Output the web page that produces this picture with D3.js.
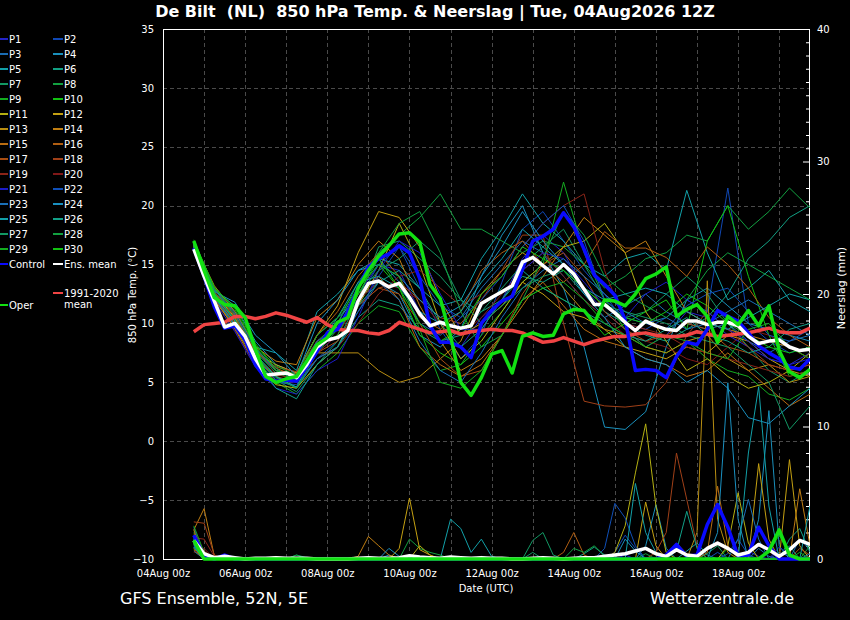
<!DOCTYPE html>
<html>
<head>
<meta charset="utf-8">
<script src="https://cdn.jsdelivr.net/npm/d3@7"></script>
<style>
  html, body { margin: 0; background: #000; }
  svg { display: block; font-family: "DejaVu Sans", sans-serif; }
</style>
</head>
<body>
<svg id="chart" width="850" height="620"></svg>
<script>
// ticks
const tempTicks = [-10, -5, 0, 5, 10, 15, 20, 25, 30, 35];
const rainTicks = [0, 10, 20, 30, 40];
const xTickDays = ['2026-08-04', '2026-08-06', '2026-08-08', '2026-08-10', '2026-08-12', '2026-08-14', '2026-08-16', '2026-08-18'];

const memberNames = ['P1','P2','P3','P4','P5','P6','P7','P8','P9','P10','P11','P12','P13','P14','P15',
  'P16','P17','P18','P19','P20','P21','P22','P23','P24','P25','P26','P27','P28','P29','P30'];
const memberColors = ['#2424c8','#1048b4','#1a6cb4','#1a90bc','#12a0a8','#12a084','#129864','#12a040','#14ac20','#12c012',
  '#b4b012','#c4a012','#b88e12','#c07e12','#b86c12','#b05e12','#a84e12','#a04018','#8a2418','#801818',
  '#1c1cc8','#1050b8','#1a70b8','#1a90c0','#12a0a8','#12a088','#129864','#12a040','#14ac20','#12c012'];

// 850 hPa temperature of the members, 12-hourly from 04Aug 18z
const membersTemp = [
  [16.5,12.2,10.1,7.2,5.4,5.0,7.5,9.0,12.5,15.0, 14.5,11.0,8.5,8.0,10.5,12.0,15.5,17.5,16.0,13.0, 11.0,9.5,8.0,9.0,11.0,10.5,9.0,8.0,7.0,6.5, 7.5],
  [16.4,12.0,9.8,6.8,5.0,4.8,7.0,8.5,11.0,14.0, 16.5,13.0,9.5,7.0,9.0,13.5,18.0,19.5,17.0,14.5, 12.5,10.0,9.5,10.5,12.0,11.0,21.5,10.0,8.5,7.5, 8.0],
  [16.6,12.4,10.3,7.5,6.0,5.5,8.0,10.0,13.0,15.5, 13.5,10.0,9.0,10.5,13.0,15.0,17.0,16.0,14.0,12.0, 10.5,11.5,12.5,11.0,10.0,9.5,10.0,8.5,7.5,8.5, 9.0],
  [16.8,12.8,11.5,8.5,6.5,5.8,9.0,10.5,12.0,13.5, 12.5,9.0,8.0,9.5,14.0,17.5,20.0,16.0,13.0,8.0, 1.2,1.0,2.5,8.0,12.0,13.0,11.5,10.0,9.5,9.0, 8.5],
  [16.7,12.6,11.0,8.0,7.5,6.0,11.0,12.5,14.5,15.5, 15.0,13.0,11.5,12.0,15.5,18.0,21.0,18.5,17.0,15.0, 14.0,15.5,16.0,14.5,21.3,16.0,12.0,13.0,14.5,12.0, 11.0],
  [16.5,12.3,10.0,7.0,5.5,4.5,7.0,8.0,10.5,12.0, 11.5,9.5,8.5,9.0,11.0,12.0,14.0,13.5,14.5,12.5, 11.0,10.0,9.0,8.5,9.5,10.5,12.5,15.5,17.0,19.0, 20.0],
  [16.6,12.5,10.4,7.3,5.2,4.2,6.5,8.5,12.0,16.5, 17.0,15.5,14.0,12.0,11.0,13.0,15.0,16.5,18.0,15.0, 12.0,10.5,11.0,12.5,14.0,12.5,10.0,8.0,6.0,5.0, 6.0],
  [16.9,12.9,10.6,7.6,5.8,5.2,8.5,10.0,13.5,16.0, 17.5,19.0,21.0,18.0,18.0,17.0,16.0,17.0,16.5,15.0, 13.0,14.0,15.5,16.0,17.5,17.0,20.0,18.0,19.5,21.5, 19.8],
  [16.7,12.4,10.2,7.0,5.0,4.0,6.0,7.5,10.0,11.5, 11.0,8.0,6.0,6.5,9.0,11.0,13.5,15.0,22.0,16.0, 12.0,9.5,8.0,7.5,8.5,7.0,6.0,5.5,4.0,3.5, 4.5],
  [17.0,13.0,11.0,8.0,6.0,5.5,8.0,9.5,13.0,15.0, 13.0,9.0,7.5,6.5,8.0,10.0,12.0,13.0,12.0,11.0, 9.0,10.0,11.0,12.0,9.5,17.0,20.0,14.0,9.0,5.5, 6.0],
  [16.4,12.2,9.5,6.5,4.8,4.5,6.5,8.0,11.5,14.5, 18.5,15.0,10.0,7.0,8.5,11.0,13.5,15.0,16.5,17.0, 18.5,16.0,11.0,8.5,6.0,7.0,5.5,4.5,5.0,6.0, 7.5],
  [16.6,12.6,10.5,7.5,6.5,5.8,9.0,11.5,16.0,19.5, 19.0,16.5,12.0,9.0,10.0,11.5,13.5,12.5,11.0,10.5, 9.5,8.0,7.5,7.0,8.0,7.5,9.0,8.5,7.0,6.0, 5.5],
  [16.3,12.0,9.6,6.8,5.6,5.8,7.5,7.5,7.5,6.0, 5.0,5.5,7.0,8.5,12.5,14.5,16.0,15.0,13.0,11.0, 9.5,9.0,8.0,7.5,8.5,9.0,7.0,6.0,6.5,5.0, 5.5],
  [16.8,13.2,11.0,8.0,6.8,6.5,10.5,12.0,15.0,17.0, 15.5,11.5,8.5,6.0,7.0,9.0,11.5,14.0,16.5,19.0, 17.5,16.0,17.0,14.0,11.0,10.0,9.5,9.0,8.5,8.0, 7.0],
  [16.5,12.5,10.0,7.8,6.2,5.5,8.5,9.5,12.5,14.0, 12.0,8.0,6.5,5.5,6.5,9.0,12.0,13.5,11.5,9.5, 8.5,8.0,7.0,6.5,5.5,6.0,7.5,6.0,4.5,3.0, 4.0],
  [16.9,13.0,10.8,7.7,6.0,5.7,9.0,11.0,14.0,16.0, 14.0,10.5,9.5,11.0,14.5,16.0,17.0,15.0,13.5,15.0, 17.8,16.4,16.4,15.6,14.0,16.5,15.0,13.0,10.5,9.0, 8.0],
  [16.4,12.1,9.8,7.0,5.5,5.0,7.5,8.5,11.5,13.0, 12.5,10.0,7.0,5.5,6.0,9.0,12.5,15.0,16.0,14.0, 11.0,9.5,8.5,9.0,10.0,9.5,8.0,7.5,6.5,6.0, 6.5],
  [16.6,12.7,10.6,7.6,6.3,5.9,8.5,9.5,11.5,13.0, 13.5,12.0,10.5,10.0,12.0,14.5,17.5,17.5,10.0,3.4, 3.0,2.9,3.1,5.0,9.0,11.0,9.5,8.0,6.5,6.0, 6.5],
  [16.5,12.4,10.1,7.2,5.7,5.2,7.0,8.0,10.0,12.5, 14.0,14.5,13.0,11.5,12.5,14.0,16.5,18.5,20.0,21.0, 14.5,10.0,9.5,9.0,8.0,7.5,7.0,6.5,6.0,5.5, 6.0],
  [16.3,11.8,9.4,6.4,5.2,5.0,7.5,9.0,12.0,13.5, 13.0,12.0,10.0,9.0,10.5,12.5,14.5,16.0,14.0,12.0, 10.5,9.0,8.5,8.0,7.0,6.5,8.0,9.5,9.0,8.0, 7.0],
  [16.2,11.9,9.3,6.3,4.5,4.0,6.0,7.0,10.5,14.5, 17.0,16.0,12.5,9.5,9.5,12.0,14.5,16.0,15.5,13.5, 11.5,10.5,12.5,13.5,12.0,11.0,9.5,8.5,7.0,6.5, 7.0],
  [16.8,12.9,10.9,7.9,6.0,5.5,8.5,9.5,12.0,15.0, 16.5,14.0,11.5,10.5,12.0,14.0,16.5,18.5,20.0,17.0, 12.0,10.5,10.0,9.5,11.5,12.5,13.0,11.0,9.0,8.5, 9.5],
  [16.4,12.2,9.8,7.1,5.2,4.6,7.0,8.0,11.0,13.5, 12.0,8.5,6.0,5.0,7.5,10.5,13.0,14.5,15.5,14.0, 12.5,11.0,10.0,10.5,9.5,10.0,11.0,12.0,11.0,10.0, 9.0],
  [16.7,12.7,11.8,9.0,7.5,5.5,10.0,12.0,14.5,15.0, 14.0,12.0,10.5,11.5,14.0,16.5,19.5,17.0,15.0,12.5, 10.5,8.0,7.0,6.5,5.0,6.0,4.5,2.0,1.5,3.0, 4.5],
  [16.6,12.5,10.2,7.4,5.5,4.6,8.0,10.5,13.5,14.0, 13.0,11.0,10.0,11.0,13.5,15.5,18.0,16.5,15.0,13.0, 12.0,12.5,13.0,12.5,11.0,10.0,9.5,10.5,11.5,12.5, 12.0],
  [16.5,12.3,9.9,7.0,4.5,3.6,6.5,8.0,11.5,13.5, 14.5,13.0,10.0,8.0,9.5,12.0,14.5,13.0,12.0,11.0, 10.0,9.0,8.5,9.5,10.5,9.0,8.5,7.5,8.0,9.5, 10.0],
  [16.8,12.9,10.7,7.8,6.2,5.0,8.0,9.5,12.5,14.5, 15.5,17.0,15.5,12.0,10.0,11.5,13.0,14.0,14.5,13.0, 11.5,11.0,10.5,10.0,9.0,8.5,8.0,6.5,5.0,1.0, 3.0],
  [16.6,12.6,10.3,7.3,5.4,4.5,7.5,9.5,13.0,16.0, 18.5,19.5,16.0,11.0,8.0,9.0,12.0,15.5,19.5,17.5, 14.0,12.5,11.5,10.5,12.0,14.5,16.0,15.0,14.0,13.0, 12.0],
  [16.9,13.1,11.2,8.1,6.4,5.6,9.0,10.5,13.0,15.0, 14.0,9.5,5.0,4.5,6.0,9.0,12.0,13.0,13.5,12.0, 10.0,9.0,8.0,9.0,8.5,7.5,7.0,9.5,10.0,8.0, 7.0],
  [17.1,13.0,11.4,8.3,6.0,5.4,8.0,9.0,12.5,15.5, 13.0,10.0,8.5,9.5,12.5,14.0,16.5,15.5,14.5,13.0, 11.5,10.5,10.0,11.0,12.5,11.5,10.0,9.0,8.0,7.5, 8.0]
];

// 6-hourly precipitation (mm) of the members, from 04Aug 18z
const membersRain = [
  [1.8,0.1,0,0.2,0,0,0,0,0,0, 0,0,0,0,0,0,0,0,0,0, 0,0,0,0,0,0,0,0,0,0, 0,0,0,0,0,0,0,0,0,0, 0,0,0,0,0,0,0.3,0.8,0.2,0, 0,0,0,0,0.6,0.2,0,0,0,0,0],
  [2.4,0.2,0,0,0,0,0,0,0,0, 0,0,0,0,0,0,0,0,0,0, 0,0,0,0,0,0,0,0,0,0, 0,0,0,0,0,0,0,0,0,0, 0,0.5,1.8,0.8,0,0,0,0,0,0, 0,0,0.4,1.5,0.3,0,0,0.5,0.2,0,0],
  [1.2,0,0,0,0,0,0,0,0,0, 0,0,0,0,0,0,0,0,0,0, 0,0,0,0,0,0,0,0,0,0, 0,0.1,0,0,0,0,0,0,0,0, 0,0,0,0,0,0,0,0,0,0, 0,0,0,0,0,0.8,0.2,0,0,1.5,0.7],
  [0.6,0,0,0,0,0,0,0,0,0, 0,0,0,0,0,0,0,0,0,0.3, 0,0,0,0,0,0,0,0,0,0, 0,0,0,0,0,0,0,0,0,0, 0,0,0,0,1.0,4.1,0.8,0,0,0, 0,0,0,0,0,3.0,11.2,1.0,0,0,0],
  [0.9,0,0,0,0,0,0,0,0,0, 0,0,0,0,0,0,0,0,0,0, 0,0,0,0,0,3.0,2.3,0.5,1.5,0.2, 0,0,0,0,0,0,0,0,0,0, 0,0,0,0,0,0,0,0,0.6,1.2, 0.3,0,0,0,0,0,0,0,0,0,0],
  [1.5,0,0,0,0,0,0,0,0,0, 0,0,0,0,0,0,0,0,0,0, 0,0,0,0,0,0,0,0,0,0, 0,0,0,0,0,0,0,0,0.4,0.9, 0.3,0,0,0,0,0,0,0,0,0, 0,0,0,0,0,0,0,0,1.5,2.3,0.5],
  [1.0,0,0,0,0,0,0,0,0,0, 0.3,0.1,0,0,0,0,0,0,0,0, 0,0,0,0,0,0,0,0,0,0, 0,0,0,0.5,0,0,0,0,0,0, 0,0,0,0,0,0,0,0,0,0, 0.4,1.0,0,0,0,0,0,0,0,0,0],
  [1.3,0,0,0,0,0,0,0,0,0, 0.3,0,0,0,0,0,0,0,0,0, 0,1.5,0.8,0.5,0.3,0,0,0,0,0, 0,0,0,0,0,0,0,0,0,0, 0,0,0,0,0.4,0,0,0,0,0, 0,0,0,0,0,0,0,0,0,0,1.0],
  [2.0,0.4,0,0,0,0,0,0,0,0, 0,0,0,0,0,0,0,0,0,0, 0,0,0,0,0,0,0,0,0,0, 0,0,0,0,0,0,0,0,0,0, 0,0,0,0,0,0,0,0,0,0, 0,0,0,0,0,0,0.5,1.8,0.4,0,0],
  [1.7,0.3,0,0,0,0,0,0,0,0, 0,0,0,0,0,0,0,0,0,0, 0,0,0,0,0,0,0,0,0,0, 0,0,0,0,0,0,0,0,0,0, 0,0,0,0,0,0,0,0,0,0, 0,0,0.8,0.4,0,0,0,0,0,0,0],
  [0.8,0,0,0,0,0,0,0,0,0, 0,0,0,0,0,0,0,0,0,0, 0,0,1.0,0.3,0,0,0,0,0,0, 0,0,0,0,0,0,0,0,0,0, 0,0.5,2.5,6.5,10.2,4.0,0.5,0,0,0, 0,0,1.0,5.0,1.2,0,0,0,0,0,0],
  [1.1,0,0,0,0,0,0,0,0,0, 0,0,0,0,0,0,0,0,0,0, 0.8,4.6,0.7,0.3,0,0,0,0,0,0, 0,0,0,0,0,0,0,0,0,0, 0,0,0,0,4.3,1.0,0,0,0,0, 0,0,0,0,0,7.2,1.5,0,7.5,1.0,0],
  [2.2,0,0,0,0,0,0,0,0.2,0, 0,0,0,0,0,0,0,0,0,0, 0,0,0,0,0,0,0,0,0,0, 0,0,0,0,0,0,0,0,0,0, 0,0,0,0,0,0,0,0,0,2.0, 21.0,3.0,0.5,0,0,0,0,0,0,0,0],
  [2.2,3.8,0.2,0,0,0,0,0,0,0, 0,0,0,0,0,0,0.2,1.7,1.0,0.3, 0,0,0,0,0,0,0,0,0,0, 0,0,0,0,0,0,0,0,0,0, 0,0,0,0,0,0,0,0,0,0, 0,0,0,0,0,0,0,0,0,5.3,1.0],
  [1.4,0,0,0,0,0,0,0,0,0.1, 0,0,0,0,0,0,0,0,0,0, 0,0,0,0,0,0,0,0,0,0, 0,0,0,0,0,0,0,0,0,0, 0,0,0,0,0,0,0,0,0,0, 0.5,5.5,1.0,0,0,0,0,0,0,0,0],
  [0.7,0,0,0,0,0,0,0,0,0, 0,0,0,0,0,0,0,0,0,0, 0,0,0,0,0,0,0,0,0,0, 0,0,0,0,0,0,0.5,2.0,0.3,0, 0,0,0,0,0,0,0,1.2,0.4,0, 0,0,0,0,0,0,0,0,0,0,0],
  [1.9,0.6,0,0,0,0,0,0,0,0, 0,0,0.1,0,0,0,0,0,0,0, 0,0,0,0,0,0,0,0,0,0, 0,0,0,0,0,0,0,0,0,0, 0,0,0,0,0,0,0,0,0,0, 0,0,0,0,0,0,0,0,0,0.8,0.3],
  [2.8,2.7,0.3,0,0,0,0,0,0,0, 0,0,0,0,0,0,0,0,0,0, 0,0,0,0,0,0,0,0,0,0, 0,0,0,0,0,0,0,0,0,0, 0,0,0,0,0,0.5,2.0,8.0,4.5,1.0, 0,0,0,0,0,0,0,0,0,0,0],
  [1.6,1.5,0.2,0,0,0,0,0,0,0, 0,0,0,0,0,0,0,0,0,0, 0,0,0,0,0,0,0,0,0,0, 0,0,0,0,0,0,0,0,0,0, 0,0,0,0,0,0,0,0,0,0, 0,0,0,0,0,0,0.6,0,0,0,0],
  [0.5,0.8,0,0,0,0,0,0,0,0, 0,0,0,0,0,0,0,0,0,0, 0,0,0,0,0,0,0,0,0,0, 0,0,0,0,0,0,0,0,0,0, 0.2,0,0,0,0,0,0,0,0,0, 0,0,0,0,0,0,0,0,0,0,0],
  [1.4,0,0,0.2,0,0,0,0,0,0, 0,0,0,0,0,0,0,0,0,0, 0,0,0,0,0,0,0,0,0,0, 0,0,0,0,0,0,0,0,0,0, 0,0,0.3,0,0,0,0,0,0,0, 0,0,0,0,0,0,0,0.9,0.3,0,0],
  [1.0,0,0,0,0,0,0,0,0,0, 0,0,0,0,0,0,0,0,0,0, 0,0,0,0,0,0,0,0,0,0, 0,0,0,0,0,0,0,0,0,0, 0.8,4.2,3.1,1.0,0,0,0,0,0,0, 0,0.5,0,0,0,0,0,0,0,0,0],
  [1.2,0,0,0,0,0,0,0,0,0, 0,0,0,0,0,0,0,0,0,0, 0,0,0,0,0,0,0,0,0,0, 0,0,0,0,0,0,0,0,0,0, 0,0,0,0,0,0,0,0,0,0, 0,0,0,1.5,4.5,1.5,0,0,0,0,0.4],
  [1.3,0,0,0,0,0,0,0,0,0, 0,0,0,0,0,0,0,0,0,0.8, 0.2,0,0,0,0,0,0,0,0,0, 0,0,0,0,0,0,0,0,0,0, 0,0,1.5,0.6,0,0,0,0,0,0, 0,2.0,13.3,3.0,0,0,0,0,0,0,0],
  [0.9,0,0,0,0,0,0,0,0,0, 0,0,0,0,0,0,0,0,0,0, 0,0,0,0,0,0,0,0,0,0, 0,0,0,0,0,0,0,0,0,0, 0,0,0,5.7,2.0,0.5,0,0,0,0, 0,0,0,0,8.0,13.0,4.0,0,0,0,4.0],
  [1.1,0,0,0,0,0,0,0,0,0, 0,0,0,0,0,0,0,0,0,0, 0,0,0,0,0,0,0,0,0,0, 0,0,0,0,0,0,0,0,0,0, 0,0,0,0,0,0,0,0.6,3.6,0.8, 0,0,0,0,0,0,0,0,1.0,0,0],
  [1.6,0,0,0,0,0,0,0,0,0, 0,0,0,0,0,0,0,0,0,0, 0,0,0,0,0,0,0,0,0,0, 0,0,0,1.4,2.0,0.3,0,0,0,0, 0,0,0,0,0,0,0,0,0,0, 0,0,0,0,0,0,0,0,0,0,0],
  [1.5,0,0,0,0,0,0,0,0,0, 0,0,0,0,0,0,0,0,0,0, 0,0,0,0,0,0,0,0,0,0, 0,0,0,0,0,0,0,0.8,0.5,1.0, 0.2,0,0,0,0,0,0,0,0,0, 0,0,0,0,0,0,0,0,0,0,0],
  [2.5,0.5,0,0,0,0,0,0,0,0, 0,0,0,0,0,0,0,0,0,0, 0,0,0,0,0,0,0,0,0.2,0, 0,0,0,0,0,0,0,0,0,0, 0,0,0,0,0,0,0,0,0,0, 0,0,0,0,0,0,0,0,0,0.5,0],
  [1.3,0.2,0,0,0,0,0,0,0,0, 0,0,0,0,0,0,0,0,0,0, 0,0,0,0,0,0,0,0,0,0.1, 0,0,0,0,0,0,0,0,0,0, 0,0,0,0,0,0,0,0,0,0, 0,0,0,0,0,0,0,0,0,0,0]
];

// 6-hourly series from 04Aug 18z
const controlTemp = [16.4,14.0,11.4,9.6,9.8,8.6,6.5,5.3,5.1,5.2, 5.1,6.3,7.6,9.2,9.5,11.0,13.0,14.8,15.5,15.9,
  16.6,16.0,13.8,9.8,8.4,8.4,8.0,7.1,10.0,11.1, 11.9,12.3,14.6,17.0,17.4,18.0,19.4,18.2,16.3,14.1,
  13.3,12.4,10.3,6.0,6.1,6.0,5.4,7.2,8.4,8.2, 9.5,11.1,10.6,10.2,9.2,8.1,7.5,7.0,6.3,6.1,7.0];
const meanTemp = [16.3,14.0,11.9,9.7,10.0,8.9,7.0,5.6,5.7,5.8, 5.4,6.5,8.0,8.6,8.8,9.4,11.9,13.4,13.6,13.1,
  13.4,12.2,10.8,9.8,10.1,9.8,9.6,9.8,11.7,12.2, 12.7,13.2,15.2,15.6,14.9,14.2,15.0,14.2,12.9,11.6,
  11.6,10.9,10.1,9.4,10.2,9.8,9.5,9.4,10.2,10.2, 9.9,10.1,10.1,9.8,8.9,8.3,8.5,8.6,8.0,7.7,7.8];
const operTemp = [17.0,14.5,12.2,11.6,11.5,10.5,7.8,5.5,5.0,5.3, 5.5,6.8,8.2,8.8,10.1,10.5,13.0,14.5,15.7,16.6,
  17.6,17.7,16.9,13.3,12.1,8.9,5.0,3.9,5.4,7.4, 7.7,5.8,8.9,9.2,8.9,9.0,10.8,11.2,11.1,10.0,
  12.0,11.9,11.5,12.5,13.8,14.2,14.8,10.6,11.2,11.6, 10.6,8.4,10.6,9.9,11.1,9.8,11.5,7.7,5.9,5.4,6.1];
const climTemp = [9.3,9.9,10.0,10.1,10.6,10.6,10.4,10.6,10.9,10.7, 10.4,10.1,10.5,9.9,9.5,9.4,9.4,9.2,9.1,9.4,
  10.1,9.8,9.5,9.2,9.3,9.4,9.1,9.3,9.4,9.5, 9.4,9.4,9.2,8.8,8.4,8.5,8.8,8.5,8.2,8.5,
  8.7,8.9,8.9,9.1,9.2,9.0,8.9,8.9,9.0,9.3, 9.1,8.9,9.0,9.1,9.2,9.4,9.6,9.3,9.2,9.2,9.6];
const controlRain = [1.8,0.2,0,0.3,0,0,0,0,0,0, 0,0,0,0,0,0,0,0,0,0, 0,0,0,0,0,0,0,0,0,0,
  0,0,0,0,0,0,0,0,0,0, 0,0,0,0,0,0,0.3,1.1,0.2,0.3, 2.6,4.1,2.4,0.2,0.3,2.4,1.0,0,0,0,0];
const meanRain = [1.4,0.4,0.1,0.2,0.1,0,0.05,0.05,0.1,0.05, 0.05,0.05,0,0,0,0,0.05,0.1,0.05,0.05,
  0.1,0.25,0.15,0.1,0.05,0.15,0.1,0.05,0.1,0.05, 0.05,0,0,0.05,0.1,0.05,0,0.05,0.1,0.1,
  0.2,0.3,0.4,0.6,0.8,0.4,0.2,0.7,0.3,0.2, 0.8,1.2,0.8,0.3,0.5,1.1,0.7,0.2,0.7,1.4,1.1];
const operRain = [1.4,0,0,0,0,0,0,0,0,0, 0,0,0,0,0,0,0,0,0,0, 0,0,0,0,0,0,0,0,0,0,
  0,0,0,0,0,0,0,0,0,0, 0,0,0,0,0,0,0,0,0,0, 0,0,0,0,0,0,0.6,2.2,0.3,0,0];

const H = 36e5;
const t0 = Date.UTC(2026, 7, 4, 18);
const time6 = d3.range(61).map(i => new Date(t0 + i * 6 * H));
const time12 = d3.range(31).map(j => new Date(t0 + j * 12 * H));

const plot = { left: 163, right: 810, top: 29, bottom: 559 };
const x = d3.scaleUtc()
  .domain([new Date(Date.UTC(2026, 7, 4, 0)), new Date(Date.UTC(2026, 7, 19, 18))])
  .range([plot.left, plot.right]);
const yT = d3.scaleLinear().domain([-10, 35]).range([plot.bottom, plot.top]);
const yR = d3.scaleLinear().domain([0, 40]).range([plot.bottom, plot.top]);

const svg = d3.select('#chart');
svg.append('rect').attr('width', 850).attr('height', 620).attr('fill', '#000');

// dashed grid
const grid = svg.append('g').attr('stroke', '#4a4a4a').attr('stroke-dasharray', '4,3');
d3.utcDay.range(new Date(Date.UTC(2026, 7, 5)), x.domain()[1]).forEach(d => {
  const px = Math.round(x(d)) + 0.5;
  grid.append('line').attr('x1', px).attr('x2', px).attr('y1', plot.top).attr('y2', plot.bottom);
});
tempTicks.filter(v => v > -10 && v < 35).forEach(v => {
  const py = Math.round(yT(v)) + 0.5;
  grid.append('line').attr('x1', plot.left).attr('x2', plot.right).attr('y1', py).attr('y2', py);
});

// axes
function styleAxis(g) {
  g.select('.domain').remove();
  g.selectAll('text').attr('fill', '#fff').attr('font-size', 10).attr('font-family', '"DejaVu Sans", sans-serif');
  g.selectAll('line').attr('stroke', '#fff');
}
svg.append('g').attr('transform', `translate(${plot.left},0)`)
  .call(d3.axisLeft(yT).tickValues(tempTicks).tickSize(0).tickPadding(9)).call(styleAxis);
svg.append('g').attr('transform', `translate(${plot.right},0)`)
  .call(d3.axisRight(yR).tickValues(rainTicks).tickSizeInner(-7).tickSizeOuter(0).tickPadding(7)).call(styleAxis);
svg.append('g').attr('transform', `translate(${plot.right},0)`)
  .call(d3.axisRight(yR).tickValues(d3.range(0, 41).filter(v => v % 10)).tickSizeInner(-4).tickSizeOuter(0).tickFormat(''))
  .call(styleAxis);
svg.append('g').attr('transform', `translate(0,${plot.bottom})`)
  .call(d3.axisBottom(x).tickValues(xTickDays.map(s => new Date(s + 'T00:00:00Z')))
    .tickFormat(d3.utcFormat('%d%b %Hz')).tickSize(0).tickPadding(10.5))
  .call(styleAxis);

svg.append('rect')
  .attr('x', plot.left + 0.5).attr('y', plot.top + 0.5)
  .attr('width', plot.right - plot.left - 1).attr('height', plot.bottom - plot.top)
  .attr('fill', 'none').attr('stroke', '#fff');

// series
svg.append('clipPath').attr('id', 'clip').append('rect')
  .attr('x', plot.left).attr('y', plot.top - 4).attr('width', plot.right - plot.left).attr('height', plot.bottom - plot.top + 8);
const lines = svg.append('g').attr('clip-path', 'url(#clip)').attr('fill', 'none').attr('stroke-linejoin', 'round');

const tempLine12 = d3.line().x((d, j) => x(time12[j])).y(d => yT(d));
const tempLine6 = d3.line().x((d, i) => x(time6[i])).y(d => yT(d));
const rainLine6 = d3.line().x((d, i) => x(time6[i])).y(d => yR(d));

membersTemp.forEach((s, k) => {
  lines.append('path').attr('d', tempLine12(s)).attr('stroke', memberColors[k]).attr('stroke-width', 1);
});
membersRain.forEach((s, k) => {
  lines.append('path').attr('d', rainLine6(s)).attr('stroke', memberColors[k]).attr('stroke-width', 1);
});

const thick = 3.5;
lines.append('path').attr('d', tempLine6(climTemp)).attr('stroke', '#f04444').attr('stroke-width', thick);
lines.append('path').attr('d', tempLine6(controlTemp)).attr('stroke', '#0a0aff').attr('stroke-width', thick);
lines.append('path').attr('d', rainLine6(controlRain)).attr('stroke', '#0a0aff').attr('stroke-width', thick);
lines.append('path').attr('d', tempLine6(meanTemp)).attr('stroke', '#ffffff').attr('stroke-width', thick);
lines.append('path').attr('d', rainLine6(meanRain)).attr('stroke', '#ffffff').attr('stroke-width', thick);
lines.append('path').attr('d', tempLine6(operTemp)).attr('stroke', '#12e012').attr('stroke-width', thick);
lines.append('path').attr('d', rainLine6(operRain)).attr('stroke', '#12e012').attr('stroke-width', thick);

// legend
const legend = svg.append('g').attr('font-size', 10).attr('fill', '#fff');
function legendItem(lx, ly, color, label) {
  legend.append('line').attr('x1', lx).attr('x2', lx + (lx ? 10 : 8)).attr('y1', ly).attr('y2', ly)
    .attr('stroke', color).attr('stroke-width', 2);
  legend.append('text').attr('x', lx + (lx ? 11 : 9)).attr('y', ly).attr('dy', '0.35em').text(label);
}
memberNames.forEach((n, k) => legendItem(k % 2 ? 53 : 0, 39 + 15 * Math.floor(k / 2), memberColors[k], n));
legendItem(0, 264, '#0a0aff', 'Control');
legendItem(53, 264, '#ffffff', 'Ens. mean');
legendItem(53, 293, '#f04444', '1991-2020');
legend.append('text').attr('x', 64).attr('y', 304).attr('dy', '0.35em').text('mean');
legendItem(0, 305, '#12e012', 'Oper');

// titles
svg.append('text').attr('x', 435).attr('y', 17).attr('text-anchor', 'middle')
  .attr('xml:space', 'preserve').style('white-space', 'pre')
  .attr('font-size', 16).attr('font-weight', 'bold').attr('fill', '#fff')
  .text('De Bilt  (NL)  850 hPa Temp. & Neerslag | Tue, 04Aug2026 12Z');
svg.append('text').attr('transform', 'translate(136,295) rotate(-90)').attr('text-anchor', 'middle')
  .attr('font-size', 10).attr('fill', '#fff').text('850 hPa Temp. (°C)');
svg.append('text').attr('transform', 'translate(845,288) rotate(-90)').attr('text-anchor', 'middle')
  .attr('font-size', 11).attr('fill', '#fff').text('Neerslag (mm)');
svg.append('text').attr('x', 486).attr('y', 592).attr('text-anchor', 'middle')
  .attr('font-size', 10).attr('fill', '#fff').text('Date (UTC)');
svg.append('text').attr('x', 120).attr('y', 604).attr('font-size', 16).attr('fill', '#fff').text('GFS Ensemble, 52N, 5E');
svg.append('text').attr('x', 650).attr('y', 604).attr('font-size', 16).attr('fill', '#fff').text('Wetterzentrale.de');
</script>
</body>
</html>
